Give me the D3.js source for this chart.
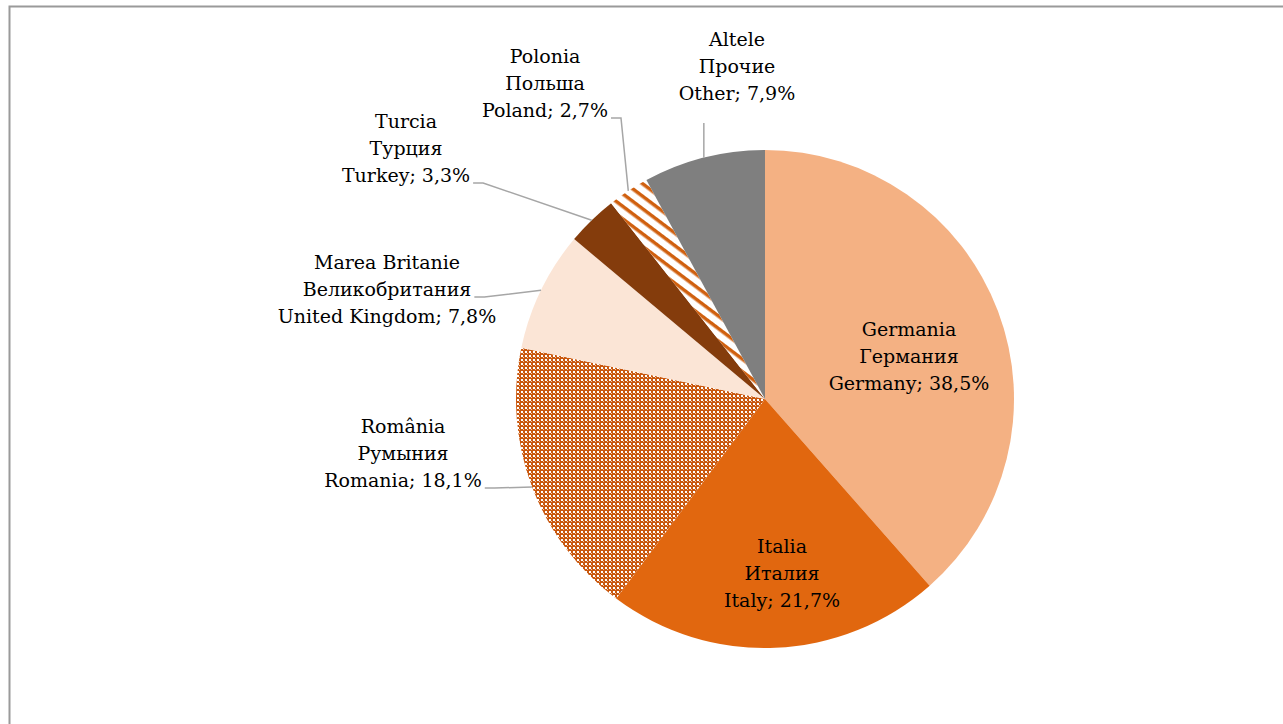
<!DOCTYPE html>
<html>
<head>
<meta charset="utf-8">
<script src="https://cdn.jsdelivr.net/npm/d3@7"></script>
<style>
  body { margin: 0; background: #fff; }
  svg text { font-family: "DejaVu Serif", serif; font-size: 19px; fill: #000; }
</style>
</head>
<body>
<div id="chart"></div>
<script>
// Data
var namesRo = ["Germania", "Italia", "România", "Marea Britanie", "Turcia", "Polonia", "Altele"];
var namesRu = ["Германия", "Италия", "Румыния", "Великобритания", "Турция", "Польша", "Прочие"];
var namesEn = ["Germany", "Italy", "Romania", "United Kingdom", "Turkey", "Poland", "Other"];
var shares = [38.5, 21.7, 18.1, 7.8, 3.3, 2.7, 7.9];

// Look
var fills = ["#F4B183", "#E1670F", "url(#dots)", "#FBE5D6", "#843C0C", "url(#stripes)", "#7F7F7F"];

// Label centers, relative to pie center (middle line)
var labelOffsets = [[144, -43], [17, 174], [-362, 54], [-378, -110], [-359, -251], [-220, -316], [-28, -333]];
// which line the leader starts from (-1 = no leader, "b" = below)
var leaderLine = [-1, -1, 2, 1, 2, 2, "b"];

var W = 1283, H = 724;
var cx = 765, cy = 399, R = 249;
var LINE_H = 27;

var svg = d3.select("#chart").append("svg")
    .attr("width", W)
    .attr("height", H)

var defs = svg.append("defs");
var dots = defs.append("pattern")
    .attr("id", "dots")
    .attr("patternUnits", "userSpaceOnUse")
    .attr("width", 4).attr("height", 4)
dots.append("rect").attr("width", 4).attr("height", 4).attr("fill", "#C9580F")
dots.append("rect").attr("x", 0).attr("y", 0).attr("width", 2).attr("height", 2).attr("fill", "#fff")
dots.append("rect").attr("x", 2).attr("y", 2).attr("width", 1).attr("height", 1).attr("fill", "#F2C9AC")

var stripes = defs.append("pattern")
    .attr("id", "stripes")
    .attr("patternUnits", "userSpaceOnUse")
    .attr("width", 10).attr("height", 10)
    .attr("patternTransform", "rotate(37)")
stripes.append("rect").attr("width", 10).attr("height", 10).attr("fill", "#fff")
stripes.append("rect").attr("width", 10).attr("height", 3.5).attr("fill", "#D0600F")

// chart frame (runs off the right and bottom edge)
svg.append("rect")
    .attr("x", 9.5).attr("y", 6.5)
    .attr("width", W + 20).attr("height", H + 20)
    .attr("fill", "none")
    .attr("stroke", "#9A9A9A")
    .attr("stroke-width", 2)

var pie = d3.pie().sort(null).value(function(d) { return d; });
var arcs = pie(shares);
var arc = d3.arc().innerRadius(0).outerRadius(R);

var g = svg.append("g").attr("transform", "translate(" + cx + "," + cy + ")");

g.selectAll("path.slice")
    .data(arcs)
    .enter()
    .append("path")
    .attr("class", "slice")
    .attr("d", arc)
    .attr("fill", function(d, i) { return fills[i]; })

// Labels
var fmt = function(v) { return d3.format(".1f")(v).replace(".", ",") + "%"; };

arcs.forEach(function(a, i) {
    var off = labelOffsets[i];
    var lines = [namesRo[i], namesRu[i], namesEn[i] + "; " + fmt(shares[i])];
    var lg = g.append("g").attr("class", "label");
    var texts = [];
    lines.forEach(function(t, k) {
        texts.push(lg.append("text")
            .attr("x", off[0])
            .attr("y", off[1] + (k - 1) * LINE_H)
            .attr("dy", "0.35em")
            .attr("text-anchor", "middle")
            .text(t));
    });

    var mode = leaderLine[i];
    if (mode === -1) return;
    var mid = (a.startAngle + a.endAngle) / 2;
    var ex = R * Math.sin(mid), ey = -R * Math.cos(mid);
    var pts;
    if (mode === "b") {
        var sy = off[1] + LINE_H + 30;
        pts = [[ex, sy], [ex, ey]];
    } else {
        var w = texts[mode].node().getComputedTextLength();
        var sx = off[0] + w / 2 + 3;
        var sy2 = off[1] + (mode - 1) * LINE_H + 8;
        pts = [[sx, sy2], [sx + 10, sy2], [ex, ey]];
    }
    g.append("path")
        .attr("class", "leader")
        .attr("d", d3.line()(pts))
        .attr("fill", "none")
        .attr("stroke", "#A6A6A6")
        .attr("stroke-width", 1.5)
});
</script>
</body>
</html>
